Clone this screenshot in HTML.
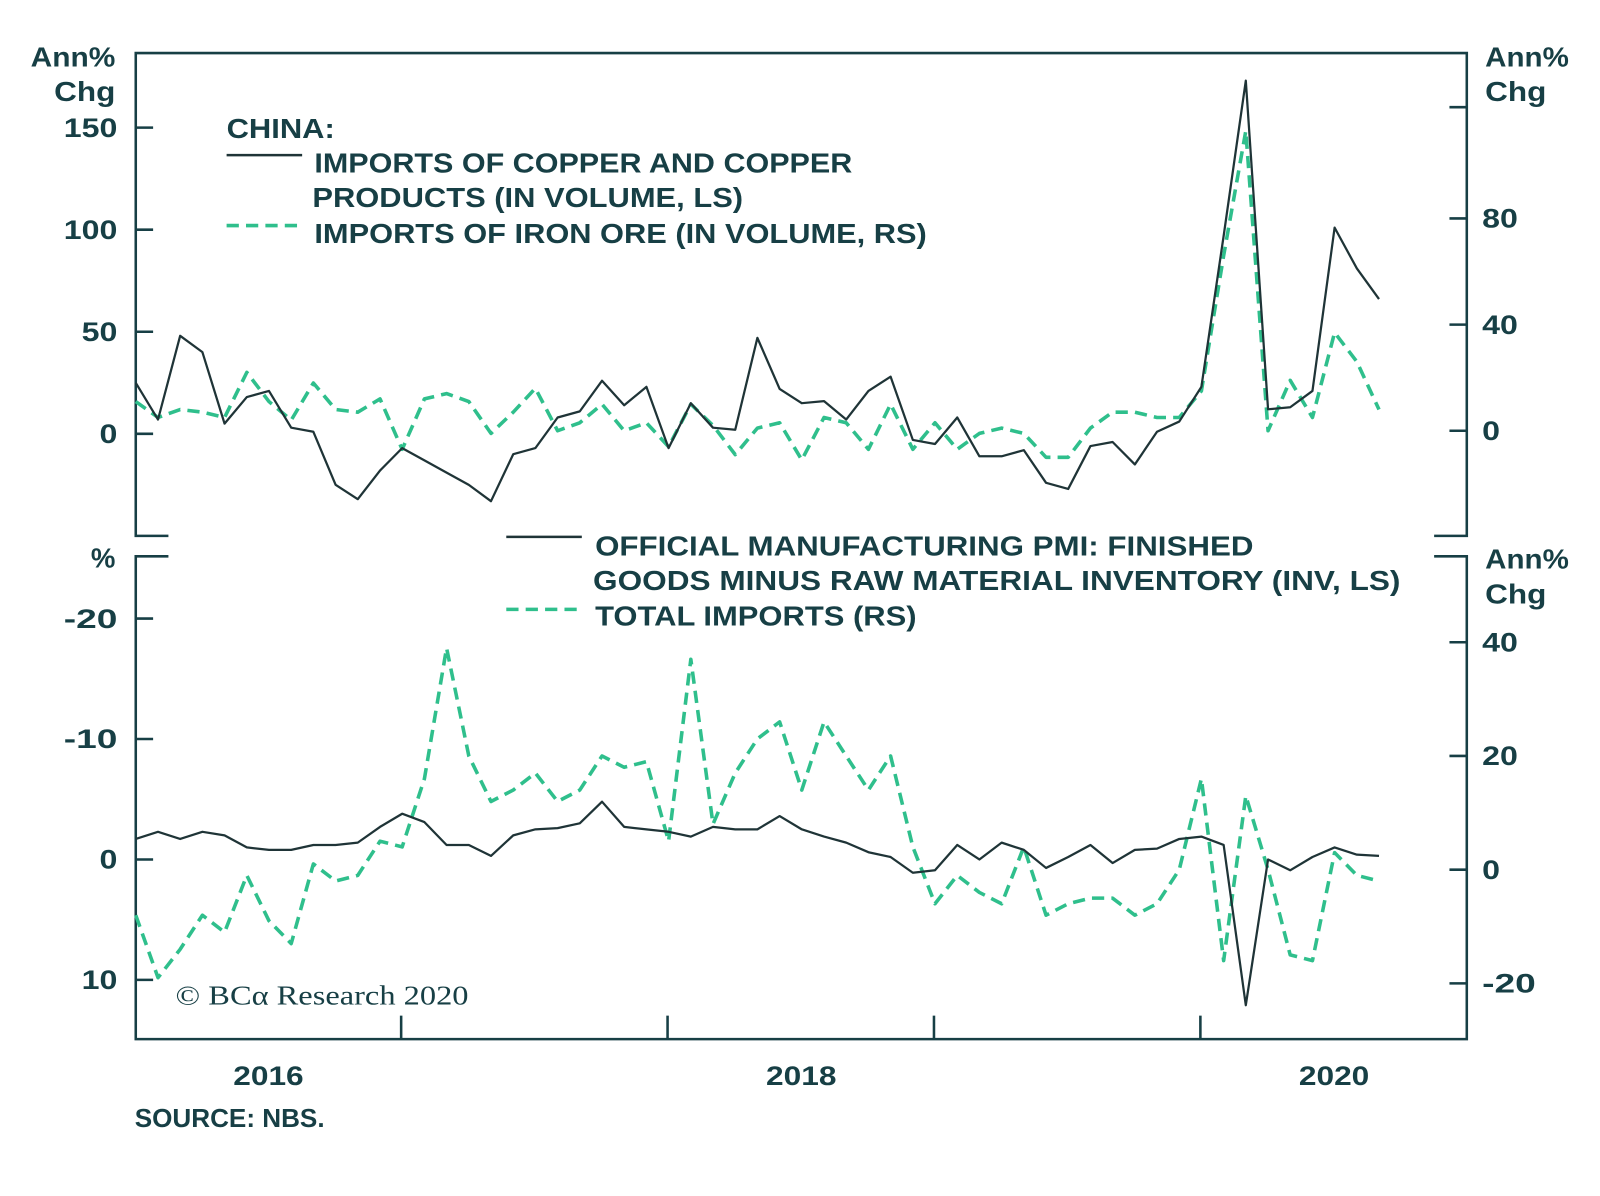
<!DOCTYPE html>
<html><head><meta charset="utf-8"><style>
body{margin:0;background:#fff;}
svg text{font-family:"Liberation Sans",sans-serif;font-weight:bold;fill:#173f45;}
</style></head><body>
<svg width="1600" height="1191" viewBox="0 0 1567.5 1166.8" preserveAspectRatio="none" xmlns="http://www.w3.org/2000/svg">
<g id="frame" stroke="#173f45" stroke-width="2.5" fill="none">
<path d="M165,525 H133 V52 H1437 V525 H1405"/>
<path d="M165,545 H133 V1018 H1437 V545 H1405"/>
</g>
<g id="ticks" stroke="#173f45" stroke-width="2.5"></g>
<g id="labels"></g>
<g id="series"></g>
<g font-size="27">
<text x="222" y="135" textLength="106" lengthAdjust="spacingAndGlyphs">CHINA:</text>
<line x1="222" y1="152" x2="296" y2="152" stroke="#1f3437" stroke-width="2.5"/>
<text x="308" y="169" textLength="527" lengthAdjust="spacingAndGlyphs">IMPORTS OF COPPER AND COPPER</text>
<text x="306" y="203" textLength="422" lengthAdjust="spacingAndGlyphs">PRODUCTS (IN VOLUME, LS)</text>
<line x1="222" y1="221" x2="296" y2="221" stroke="#2fbf8c" stroke-width="3.5" stroke-dasharray="12,7"/>
<text x="308" y="238" textLength="600" lengthAdjust="spacingAndGlyphs">IMPORTS OF IRON ORE (IN VOLUME, RS)</text>
</g>
<g font-size="27">
<line x1="496" y1="526" x2="570" y2="526" stroke="#1f3437" stroke-width="2.5"/>
<text x="583" y="544" textLength="645" lengthAdjust="spacingAndGlyphs">OFFICIAL MANUFACTURING PMI: FINISHED</text>
<text x="581" y="578" textLength="791" lengthAdjust="spacingAndGlyphs">GOODS MINUS RAW MATERIAL INVENTORY (INV, LS)</text>
<line x1="496" y1="597" x2="570" y2="597" stroke="#2fbf8c" stroke-width="3.5" stroke-dasharray="12,7"/>
<text x="583" y="613" textLength="315" lengthAdjust="spacingAndGlyphs">TOTAL IMPORTS (RS)</text>
</g>
<text x="172" y="984" font-size="27" textLength="287" lengthAdjust="spacingAndGlyphs" style="font-family:'Liberation Serif',serif;font-weight:normal">© BCα Research 2020</text>
<text x="132" y="1104" font-size="25" textLength="186" lengthAdjust="spacingAndGlyphs">SOURCE: NBS.</text>
</svg>
<script>
const years=["2016","2018","2020"];
const leftTopTicks=[0,50,100,150];
const rightTopTicks=[0,40,80];
const leftBotTicks=[-20,-10,0,10];
const rightBotTicks=[-20,0,20,40];
const copper=[25,7,48,40,5,18,21,3,1,-25,-32,-18,-7,-13,-19,-25,-33,-10,-7,8,11,26,14,23,-7,15,3,2,47,22,15,16,7,21,28,-3,-5,8,-11,-11,-8,-24,-27,-6,-4,-15,1,6,23,97,173,12,13,21,101,81,66];
const ironOre=[11,5,8,7,5,22,11,4,18,8,7,12,-7,12,14,11,-1,7,16,0,3,10,0,3,-6,10,2,-9,1,3,-11,5,3,-7,10,-7,3,-7,-1,1,-1,-10,-10,1,7,7,5,5,15,66,113,0,19,5,37,26,8];
const pmi=[-1.7,-2.3,-1.7,-2.3,-2,-1,-0.8,-0.8,-1.2,-1.2,-1.4,-2.7,-3.8,-3.1,-1.2,-1.2,-0.3,-2,-2.5,-2.6,-3,-4.8,-2.7,-2.5,-2.3,-1.9,-2.7,-2.5,-2.5,-3.6,-2.5,-1.9,-1.4,-0.6,-0.2,1.1,0.9,-1.2,0,-1.4,-0.8,0.7,-0.2,-1.2,0.3,-0.8,-0.9,-1.7,-1.9,-1.2,12.1,0,0.9,-0.2,-1,-0.4,-0.3];
const totalImports=[-8,-19,-14,-8,-11,-1,-9,-13,1,-2,-1,5,4,16,39,20,12,14,17,12,14,20,18,19,5,37,8,17,23,26,14,26,20,14,20,4,-6,-1,-4,-6,4,-8,-6,-5,-5,-8,-6,0,16,-16,13,0,-15,-16,3,-1,-2];

const NS="http://www.w3.org/2000/svg";
const X=i=>133+21.75*i;
const yTL=v=>425-2*v;
const yTR=v=>422-2.6*v;
const yBL=v=>842+11.8*v;
const yBR=v=>852-5.57*v;
function mk(tag,attrs,parent){const e=document.createElementNS(NS,tag);for(const k in attrs)e.setAttribute(k,attrs[k]);parent.appendChild(e);return e;}
const ticks=document.getElementById('ticks'),labels=document.getElementById('labels'),series=document.getElementById('series');
function txt(x,y,s,anchor,size,len){const t=mk('text',{x:x,y:y,'text-anchor':anchor,'font-size':size},labels);t.textContent=s;
if(len){t.setAttribute('textLength',len);t.setAttribute('lengthAdjust','spacingAndGlyphs');}

return t;}
const nw=s=>s.length*17.5;
leftTopTicks.forEach(v=>{const y=yTL(v);mk('line',{x1:133,x2:150,y1:y,y2:y},ticks);txt(115,y+9,String(v),'end',26,nw(String(v)));});
rightTopTicks.forEach(v=>{const y=yTR(v);mk('line',{x1:1420,x2:1437,y1:y,y2:y},ticks);txt(1452,y+9,String(v),'start',26,nw(String(v)));});
mk('line',{x1:1420,x2:1437,y1:105,y2:105},ticks);
leftBotTicks.forEach(v=>{const y=yBL(v);mk('line',{x1:133,x2:150,y1:y,y2:y},ticks);txt(115,y+9,String(v),'end',26,nw(String(v)));});
rightBotTicks.forEach(v=>{const y=yBR(v);mk('line',{x1:1420,x2:1437,y1:y,y2:y},ticks);txt(1452,y+9,String(v),'start',26,nw(String(v)));});
[393,654,915,1176].forEach(x=>mk('line',{x1:x,x2:x,y1:995,y2:1018},ticks));
years.forEach((y,i)=>txt(263+522*i,1063,y,'middle',26,69));
txt(113,65,'Ann%','end',27,83);txt(113,99,'Chg','end',27,60);
txt(1455,65,'Ann%','start',27,82);txt(1455,99,'Chg','start',27,60);
txt(113,556,'%','end',27);
txt(1455,557,'Ann%','start',27,82);txt(1455,591,'Chg','start',27,60);
function line(arr,fx,fy,color,w,dash,name){
 const d=arr.map((v,i)=>(i?'L':'M')+fx(i).toFixed(1)+','+fy(v).toFixed(1)).join(' ');
 const p=mk('path',{d:d,fill:'none',stroke:color,'stroke-width':w,'stroke-linejoin':'round'},series);
 if(dash)p.setAttribute('stroke-dasharray',dash);
 
 
}
line(ironOre,X,yTR,'#2fbf8c',3.5,'12,7','iron-ore-line');
line(copper,X,yTL,'#1f3437',2.2,null,'copper-line');
line(totalImports,X,yBR,'#2fbf8c',3.5,'12,7','total-imports-line');
line(pmi,X,yBL,'#1f3437',2.2,null,'pmi-inventory-line');
</script>
</body></html>
